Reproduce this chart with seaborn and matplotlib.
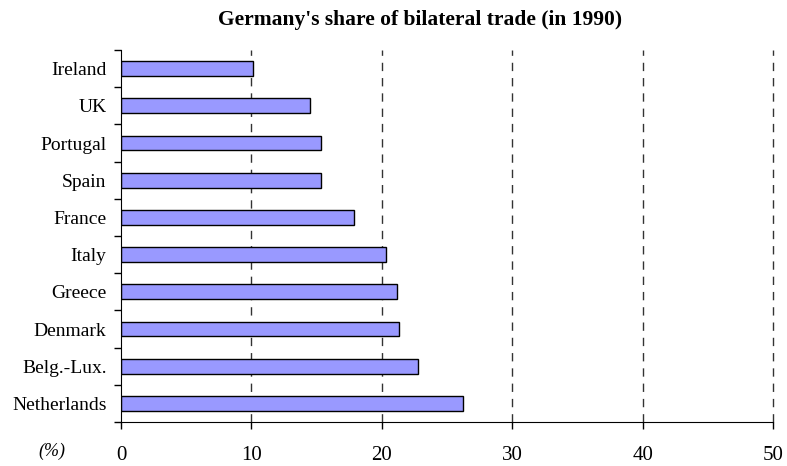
import seaborn as sns
import matplotlib.pyplot as plt
import numpy as np
import pandas as pd

countries = ['Ireland', 'UK', 'Portugal', 'Spain', 'France', 'Italy',
             'Greece', 'Denmark', 'Belg.-Lux.', 'Netherlands']
share = [10.1, 14.5, 15.3, 15.35, 17.9, 20.3, 21.2, 21.3, 22.8, 26.2]
x_ticks = [0, 10, 20, 30, 40, 50]

df = pd.DataFrame({'country': countries, 'share': share})

sns.set_style('white')
plt.rcParams['font.family'] = ['Liberation Serif', 'DejaVu Serif']
plt.rcParams['text.color'] = 'black'
plt.rcParams['xtick.color'] = 'black'
plt.rcParams['ytick.color'] = 'black'

fig = plt.figure(figsize=(7.87, 4.66), dpi=100)
ax = fig.add_axes([121 / 787, 1 - 422 / 466, (773 - 121) / 787, (422 - 50) / 466])

sns.barplot(data=df, x='share', y='country', order=countries, color='#9999ff',
            saturation=1, width=0.4, edgecolor='black', linewidth=1, ax=ax)

ax.set_xlim(0, 50)
ax.set_ylim(len(countries) - 0.5, -0.5)
ax.set_xticks(x_ticks)
ax.set_xticklabels([str(t) for t in x_ticks], fontsize=15)
ax.tick_params(axis='x', length=5, width=1, colors='black', pad=12, direction='out')
ax.tick_params(axis='y', length=0, labelsize=14, pad=10.5, colors='black')
ax.set_yticks(np.arange(-0.5, len(countries), 1.0), minor=True)
ax.tick_params(axis='y', which='minor', length=5, width=1, color='black', direction='out')
ax.xaxis.set_ticks_position('bottom')
ax.yaxis.set_ticks_position('left')

# dashed reference lines
for t in x_ticks[1:]:
    ax.axvline(t, color='#333333', linestyle=(0, (6, 5)), linewidth=1, zorder=0, clip_on=False)

for side in ['top', 'right']:
    ax.spines[side].set_visible(False)
ax.spines['left'].set_color('black')
ax.spines['bottom'].set_color('black')

ax.set_xlabel('')
ax.set_ylabel('')
fig.text(52 / 787, 1 - 451 / 466, '(%)', style='italic', fontsize=13, ha='center', va='center')
fig.suptitle("Germany's share of bilateral trade (in 1990)", x=420 / 787, y=1 - 20 / 466,
             fontsize=15.5, fontweight='bold', va='center')

fig.savefig('out.png', dpi=100)
